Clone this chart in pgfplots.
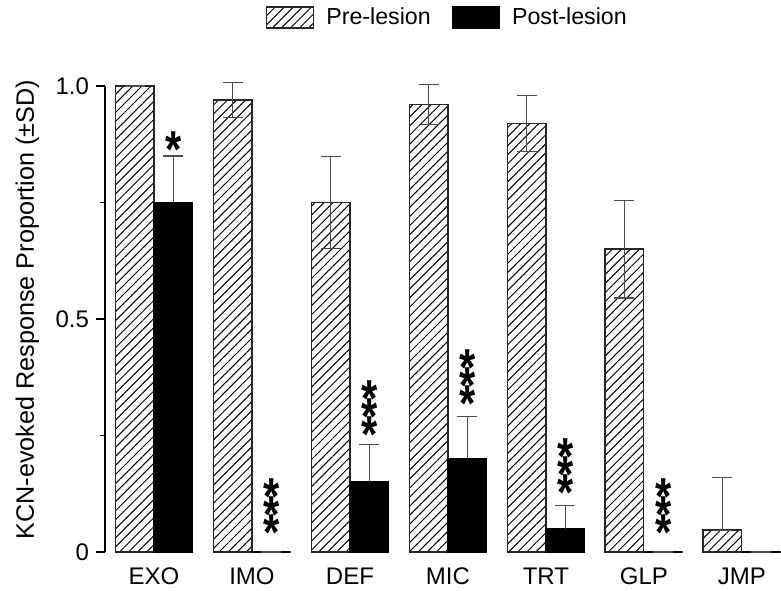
\documentclass[border=0pt]{standalone}
\usepackage{pgfplots}
\pgfplotsset{compat=1.18}
\usepackage{fontspec}
\setmainfont{Liberation Sans}
\usepackage{graphicx}
\usetikzlibrary{patterns.meta}

\tikzset{star/.style={inner sep=0pt, anchor=north, font=\fontsize{26}{26}\selectfont\bfseries}}
\newcommand\st{\hbox{\raisebox{-0.40em}[0.32em][0pt]{\scalebox{0.8}[1]{*}}}}
\newcommand\onestar[2]{\node[star] at (axis cs:#1,#2) {\vbox{\offinterlineskip\st}};}
\newcommand\threestars[2]{%
 \node[star] at (axis cs:#1,#2) {\vbox{\offinterlineskip\st\kern0.7pt\st\kern0.7pt\st}};}

\pgfplotsset{
  myerr/.style={
    error bars/y explicit,
    error bars/error bar style={color=black!70, line width=0.6pt},
    error bars/error mark options={color=black!70, line width=0.6pt, mark size=5pt, rotate=90},
  },
  boxlegend/.style={legend image code/.code={\draw[##1] (0pt,-5.25pt) rectangle (23.5pt,5.25pt);}},
}

\begin{document}
\begin{tikzpicture}
\useasboundingbox (0,0) rectangle (390.5pt,295pt);
\begin{axis}[
  at={(52.5pt,19pt)}, anchor=south west,
  scale only axis, width=338pt, height=233pt,
  xmin=-0.5, xmax=6.4, ymin=0, ymax=1,
  clip=false,
  axis lines=left,
  axis line style={-, line width=0.6pt, black},
  x axis line style={draw=none},
  xtick={0,...,6},
  xticklabels={EXO,IMO,DEF,MIC,TRT,GLP,JMP},
  xtick style={draw=none},
  ytick={0,0.5,1}, yticklabels={0,0.5,1.0},
  minor ytick={0.25,0.75},
  tick align=outside,
  major tick length=4.5pt, minor tick length=2.5pt,
  ytick style={line width=0.6pt, black},
  minor tick style={line width=0.6pt, black},
  /pgf/number format/assume math mode=true,
  ticklabel style={font=\fontsize{12}{14}\selectfont},
  ylabel={KCN-evoked Response Proportion (±SD)},
  every axis y label/.style={at={(axis description cs:-0.115,0.52)}, rotate=90, anchor=center,
     font=\fontsize{12.6}{15}\selectfont},
  ybar=0pt, bar width=0.395,
  legend columns=2,
  legend style={draw=none, at={(0.508,1.147)}, anchor=center,
    font=\fontsize{11.6}{14}\selectfont,
    /tikz/every odd column/.append style={column sep=4pt},
    /tikz/every even column/.append style={column sep=8.5pt}},
]
\addplot[draw=black!85, line width=0.65pt, fill=white,
  postaction={pattern={Lines[angle=45,distance=3.2pt,line width=0.5pt]}},
  boxlegend, myerr, error bars/y dir=both]
coordinates {
 (0,1.0) += (0,0) -= (0,0)
 (1,0.97) +- (0,0.037)
 (2,0.75) +- (0,0.098)
 (3,0.96) +- (0,0.043)
 (4,0.92) +- (0,0.06)
 (5,0.65) +- (0,0.105)
 (6,0.047) += (0,0.113) -= (0,0)
};
\addlegendentry{Pre-lesion}
\addplot[draw=black, line width=0.65pt, fill=black,
  boxlegend, myerr, error bars/y dir=plus]
coordinates {
 (0,0.75) += (0,0.10)
 (1,0) += (0,0)
 (2,0.15) += (0,0.08)
 (3,0.20) += (0,0.09)
 (4,0.05) += (0,0.05)
 (5,0) += (0,0)
 (6,0) += (0,0)
};
\addlegendentry{Post-lesion}
\onestar{0.2}{0.906}
\threestars{1.2}{0.161}
\threestars{2.2}{0.373}
\threestars{3.2}{0.438}
\threestars{4.2}{0.247}
\threestars{5.2}{0.161}
\end{axis}
\end{tikzpicture}
\end{document}
